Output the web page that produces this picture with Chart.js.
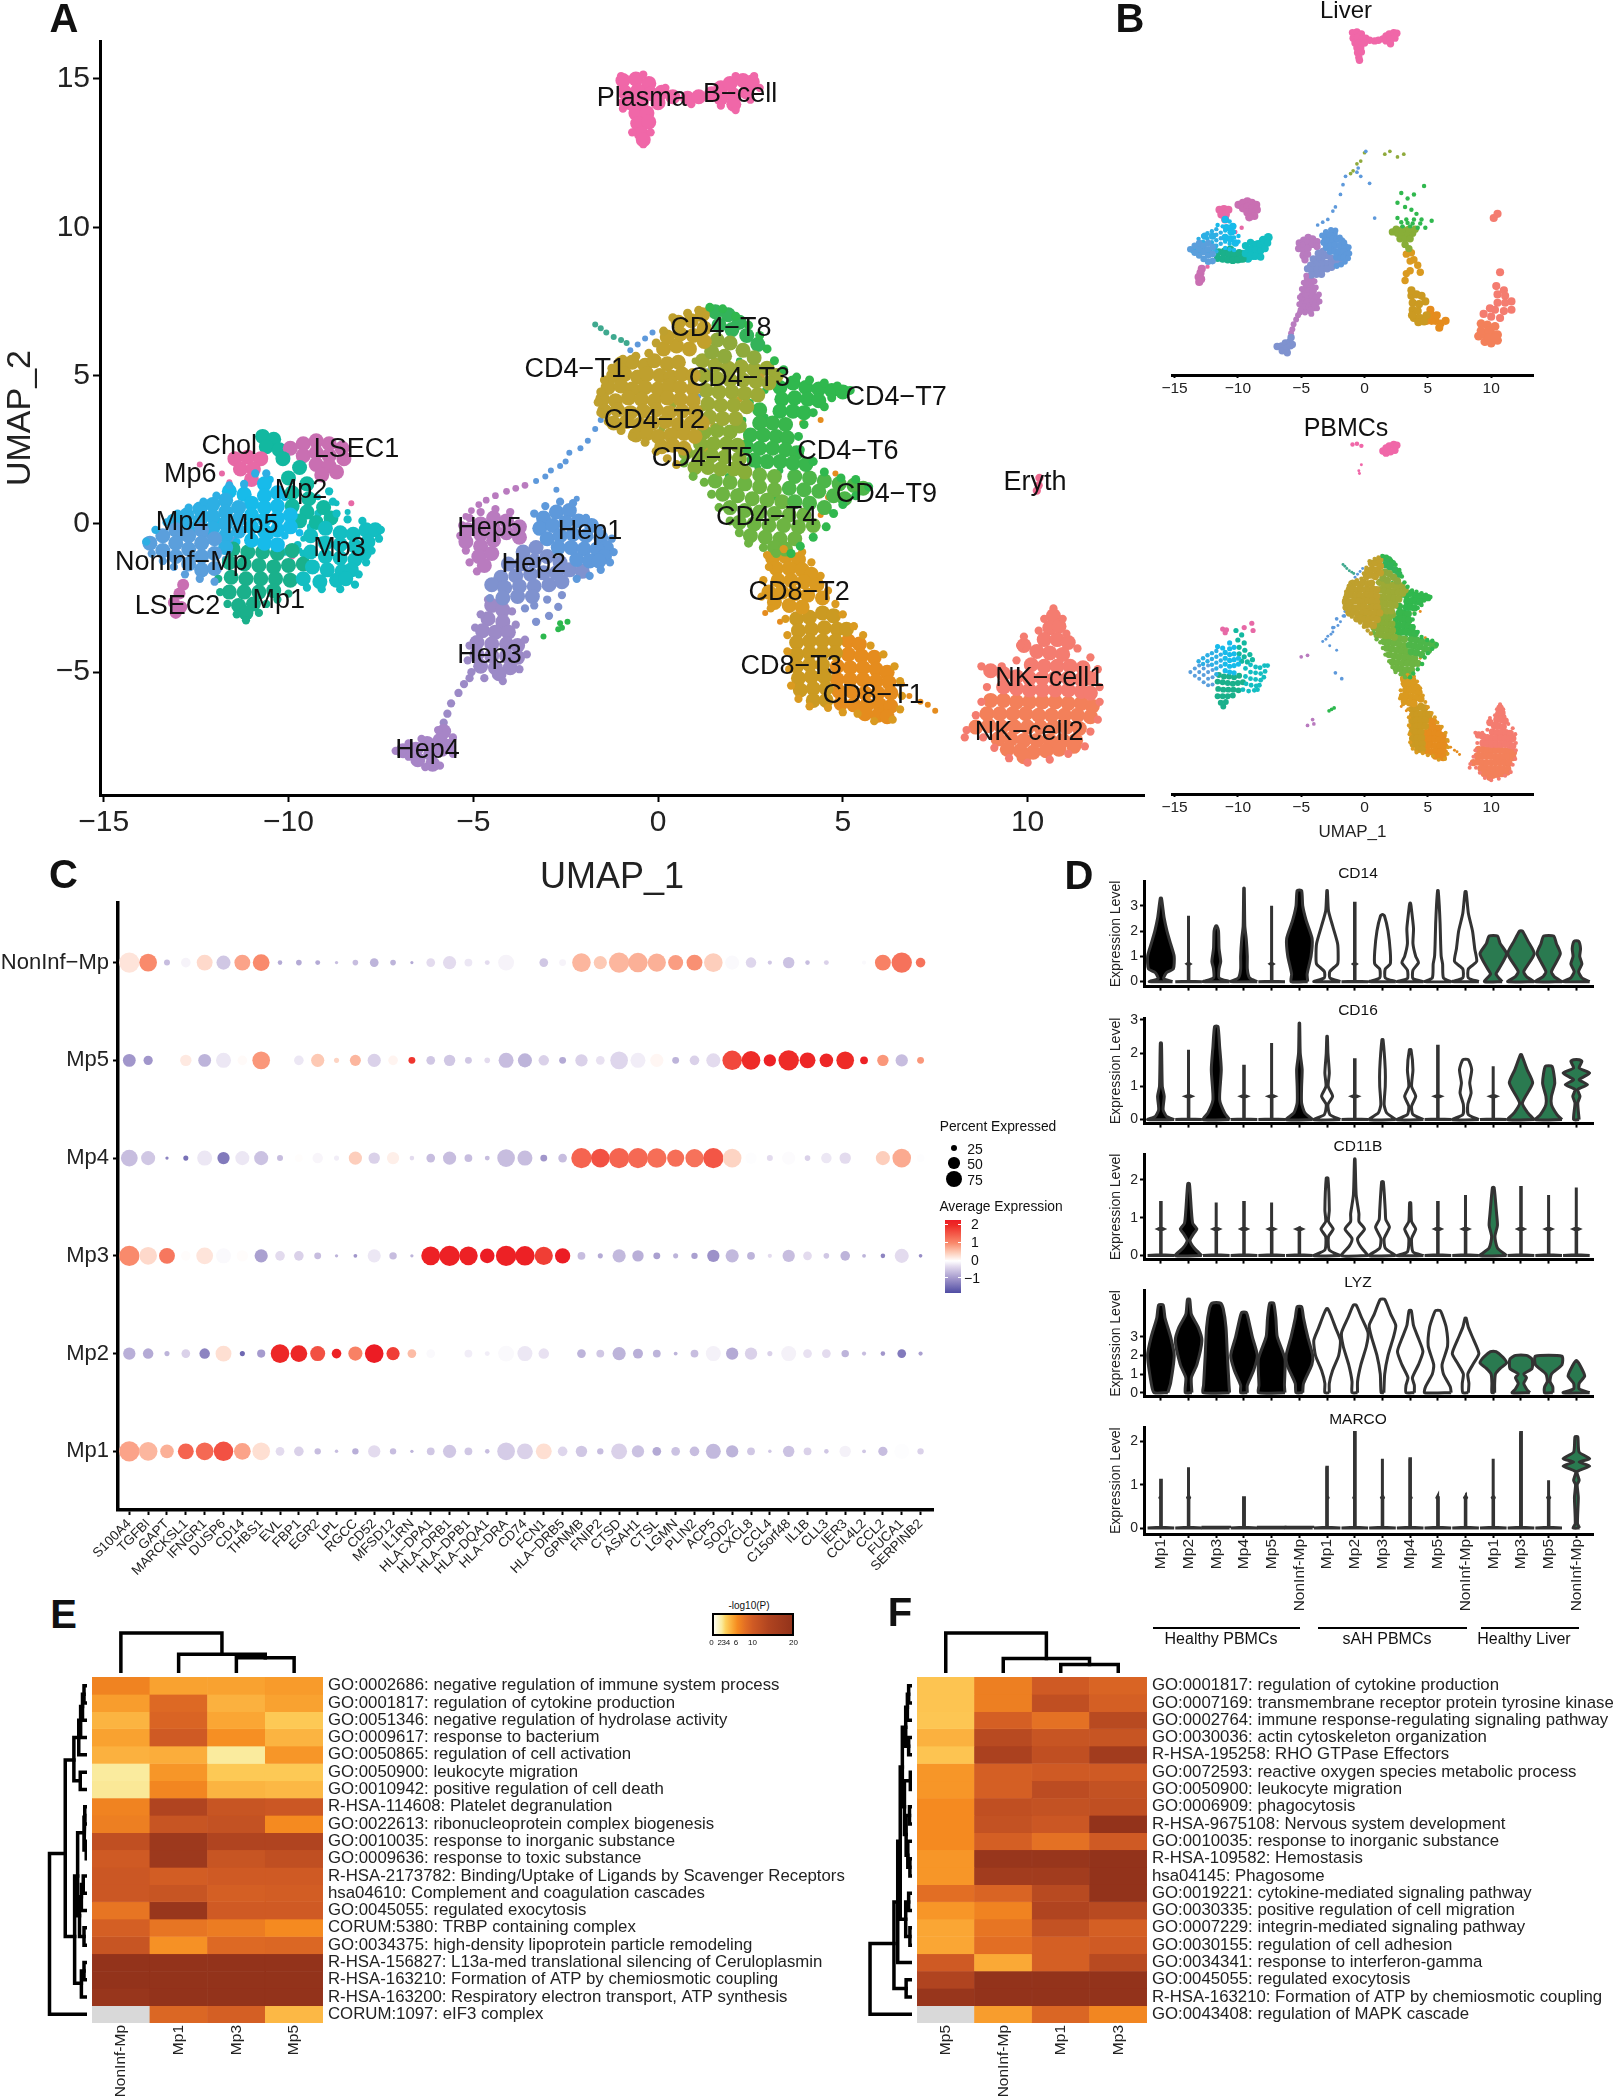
<!DOCTYPE html>
<html>
<head>
<meta charset="utf-8">
<title>Macrophage UMAP figure</title>
<script src="https://cdn.jsdelivr.net/npm/chart.js@4"></script>
<style>
  html, body { margin: 0; padding: 0; background: #fff; }
  #fig { position: relative; width: 1613px; height: 2100px; overflow: hidden; font-family: "Liberation Sans", Arial, sans-serif; color: #111; }
  #fig canvas { position: absolute; }
  .txt { position: absolute; white-space: nowrap; transform: translate(-50%, -50%); }
  .bar { position: absolute; background: #000; }
</style>
</head>
<body>
<div id="fig"></div>
<script>
'use strict';

// ─── Panel A/B: UMAP cells ──────────────────────────────────────────────────
const umapBcell = [[-.95,14.95],[-.6,15],[-.25,14.85],[-.9,14.55],[-.55,14.6],[-.2,14.5],[.1,14.55],[.4,14.4],[.8,14.35],[1.1,14.4],[1.45,14.5],[1.7,14.7],[1.95,14.85],[2.3,14.95],[2.55,14.9],[1.7,14.35],[2.05,14.45],[2.4,14.55],[2.05,14.15],[-.75,14.2],[-.45,14.2],[-.6,13.85],[-.3,13.85],[-.55,13.5],[-.25,13.55],[-.45,13.15],[-.4,12.95],[0,14.2]];
const umapBcellEdge = [[-1,15.1],[-.4,15.15],[2.1,15.1],[2.6,15.1],[2.75,14.7],[2.5,14.3],[2.1,13.95],[1.7,14.1],[-1,14.2],[-.95,14],[-.7,13.2],[-.2,13.2],[-.4,12.8],[.2,14.7],[.9,14.15]];
const umapEryth = [[10.32,1.55],[10.3,1.3],[10.25,1.12]];
const umapNonInf = [[-13.75,-.65],[-13.4,-.4],[-13.4,-.9],[-13.05,-.2],[-13.05,-.65],[-13.05,-1.1],[-12.7,-.4],[-12.7,-.85],[-12.7,-1.35],[-12.35,-.2],[-12.35,-.65],[-12.35,-1.1],[-12.35,-1.55],[-12,-.5],[-12,-1],[-12,-1.5]];
const umapMp4 = [[-13.1,.1],[-12.75,.3],[-12.75,-.1],[-12.4,.5],[-12.4,.1],[-12.05,.65],[-12.05,.25],[-12.05,-.15],[-11.7,.8],[-11.7,.4],[-11.7,0],[-11.7,-.4],[-11.35,.55],[-11.35,.15],[-11.35,-.25],[-11.7,-.8]];
const umapMp5 = [[-11.6,1.1],[-11.2,1],[-11,.7],[-11,.3],[-11,-.1],[-11,-.55],[-10.65,1.35],[-10.65,.95],[-10.65,.55],[-10.65,.15],[-10.65,-.25],[-10.65,-.65],[-10.3,1.05],[-10.3,.6],[-10.3,.2],[-10.3,-.2],[-10.3,-.7],[-9.95,.3],[-9.95,-.1]];
const umapMp2 = [[-10.15,2.2],[-9.7,1.9],[-10,1.55],[-9.5,1.35],[-9.9,1.05],[-9.45,.85],[-9.9,.6],[-9.5,.4],[-9.05,.55],[-9.7,.1],[-9.25,.05],[-8.85,.2]];
const umapMp3 = [[-9.4,-.4],[-9,-.15],[-8.6,-.3],[-8.25,-.35],[-7.9,-.2],[-7.65,-.2],[-9,-.65],[-8.6,-.7],[-8.2,-.75],[-7.85,-.6],[-9.4,-.95],[-9,-1.1],[-8.6,-1.15],[-8.2,-1.2],[-7.95,-1],[-9.35,-1.45],[-8.95,-1.55],[-8.55,-1.6],[-8.3,-1.55],[-9.6,-1.85],[-9.15,-1.95],[-8.7,-1.9],[-8.45,-1.85]];
const umapMp1 = [[-11.5,-.85],[-11.1,-.95],[-10.7,-.95],[-10.3,-1],[-9.9,-.9],[-11.6,-1.3],[-11.2,-1.35],[-10.8,-1.4],[-10.4,-1.45],[-10,-1.4],[-9.6,-1.35],[-11.55,-1.8],[-11.15,-1.85],[-10.75,-1.85],[-10.35,-1.85],[-9.95,-1.9],[-11.6,-2.3],[-11.2,-2.3],[-10.8,-2.3],[-10.4,-2.25],[-11.35,-2.75],[-10.95,-2.7],[-11.15,-3]];
const umapChol = [[-11.45,2.2],[-11.1,2.25],[-10.75,2.2],[-11.3,1.85],[-10.95,1.85],[-11,1.5]];
const umapCholCap = [[-10.7,2.95],[-10.4,2.85],[-10.6,2.6],[-10.25,2.5]];
const umapLsec1 = [[-9.95,2.55],[-9.6,2.7],[-9.25,2.8],[-8.9,2.7],[-8.55,2.55],[-9.6,2.3],[-9.25,2.4],[-8.9,2.3],[-8.5,2.2],[-9.25,2],[-8.9,1.95],[-8.7,1.75],[-9.1,1.65]];
const umapLsec2 = [[-12.85,-2.05],[-12.95,-2.35],[-13.1,-2.65],[-12.9,-2.8],[-13.05,-3]];
const umapEdgeCyan = [[-13.85,-.6],[-13.6,-.2],[-13.3,.05],[-13,.35],[-12.7,.55],[-12.3,.75],[-11.95,.95],[-11.6,1.3],[-11.2,1.35],[-10.9,1.7],[-10.6,1.7]];
const umapEdgeBlue = [[-13.7,-1],[-13.4,-1.25],[-13.1,-1.45],[-12.8,-1.7],[-12.4,-1.85],[-12,-1.95]];
const umapEdgeMp3 = [[-7.5,-.2],[-7.55,-.5],[-7.75,-.9],[-7.9,-1.3],[-8.1,-1.7],[-8.2,-2.05],[-8.6,-2.2],[-9.1,-2.2],[-9.5,-2.15],[-8,.1],[-8.4,.15],[-8.7,.35],[-8.8,.75],[-8.9,1.1]];
const umapEdgeMp1 = [[-10,-2.35],[-10.3,-2.55],[-10.6,-2.7],[-10.8,-3],[-11.15,-3.25],[-11.4,-3.05],[-11.65,-2.7],[-11.85,-2.3],[-11.9,-1.85]];
const umapGrainCyan = [[-11.4,-.6],[-12.3,.35],[-10.1,-.4],[-10.5,-.4],[-9.7,-.3],[-9.85,.5],[-10.1,.9],[-10.5,1.5],[-11.2,1.3],[-12.6,-.2],[-11.9,.1]];
const umapGrainBlue = [[-12.2,-.35],[-11.7,-1.2],[-12.6,-1.1],[-11.5,-.55],[-12.9,-.45]];
const umapGrainMp3 = [[-9.4,-.1],[-9.75,-.7],[-9.6,-1],[-10.1,-.95],[-9.2,.35],[-9.1,-.55]];
const umapHep1 = [[-3.1,.2],[-2.75,.4],[-2.4,.45],[-3.2,-.15],[-2.85,-.05],[-2.5,.05],[-2.15,.1],[-1.8,-.05],[-3,-.5],[-2.65,-.4],[-2.3,-.35],[-1.95,-.4],[-1.55,-.45],[-1.4,-.8],[-2.7,-.8],[-2.35,-.8],[-2,-.85],[-1.65,-.85],[-1.45,-1.1],[-2.2,-1.2],[-1.85,-1.25],[-1.6,-1.25]];
const umapHep2 = [[-3.3,-.8],[-3.65,-.95],[-3,-1.1],[-3.35,-1.25],[-3.7,-1.35],[-4.05,-1.35],[-2.65,-1.3],[-2.4,-1.55],[-2.05,-1.6],[-2.75,-1.65],[-3.1,-1.65],[-3.45,-1.7],[-3.85,-1.75],[-4.25,-1.8],[-4.5,-2.05],[-4.15,-2.15],[-3.75,-2.1],[-3.35,-2.1],[-2.95,-2.05],[-2.6,-1.95],[-3.4,-2.45],[-3.8,-2.45],[-4.2,-2.5]];
const umapHep5 = [[-5.15,-.2],[-5.2,-.6],[-4.8,0],[-4.8,-.35],[-4.8,-.75],[-4.45,.2],[-4.45,-.15],[-4.45,-.55],[-4.1,.1],[-4.1,-.3],[-3.75,-.1],[-3.75,-.45],[-4.85,-1.1],[-4.5,-1],[-4.7,-1.4]];
const umapHep3 = [[-4.5,-2.75],[-4.2,-2.9],[-4.6,-3.2],[-4.2,-3.3],[-4.75,-3.6],[-4.4,-3.65],[-4.05,-3.65],[-4.9,-4],[-4.5,-4.05],[-4.1,-4.05],[-3.8,-4.1],[-4.9,-4.4],[-4.5,-4.45],[-4.1,-4.45],[-3.8,-4.5],[-4.8,-4.8],[-4.4,-4.85],[-4,-4.85],[-4.3,-5.05]];
const umapHep4 = [[-6.9,-7.65],[-6.55,-7.6],[-6.25,-7.4],[-5.9,-7.3],[-6.5,-7.95],[-6.15,-7.75],[-5.85,-7.6],[-6.1,-8.1],[-5.8,-7],[-5.7,-7.5]];
const umapHepStem = [[-5.8,-6.7],[-5.7,-6.4],[-5.6,-6.05],[-5.4,-5.7],[-5.25,-5.4],[-5.1,-5.2]];
const umapEdgeHep1 = [[-1.25,-.5],[-1.2,-.95],[-1.3,-1.3],[-1.55,-1.55],[-1.85,-1.75],[-2.2,-1.85],[-1.6,-.15],[-1.95,.2],[-2.3,.7],[-2.65,.75],[-3.05,.6],[-3.35,.35]];
const umapEdgeHep2 = [[-2.6,-2.4],[-3,-2.55],[-3.35,-2.75],[-2.7,-2.8],[-2.95,-3.1],[-3.3,-3.3],[-3.6,-2.85],[-4.55,-2.5]];
const umapEdgeHep3 = [[-5.1,-4.1],[-5.15,-4.6],[-5.05,-5],[-4.7,-5.2],[-4.2,-5.3],[-3.75,-4.9],[-3.55,-4.4],[-3.6,-3.9],[-3.85,-3.4],[-3.95,-2.95],[-4.8,-3.05],[-4.95,-3.5],[-4.6,-2.55]];
const umapEdgeHep4 = [[-7.1,-7.65],[-6.75,-7.85],[-6.3,-8.2],[-5.9,-8.15],[-5.55,-7.75],[-5.55,-7.2],[-5.95,-6.95],[-6.4,-7.25],[-6.75,-7.4]];
const umapEdgeHep5 = [[-5.35,-.4],[-5.3,-.05],[-5.1,.2],[-4.8,.4],[-4.4,.5],[-4,.4],[-5.2,-.9],[-5.1,-1.3],[-4.9,-1.6]];
const umapTrailBlue = [[-1.55,3.5],[-1.7,3.2],[-1.9,2.8],[-2.1,2.55],[-2.4,2.4],[-2.5,2.1],[-2.65,1.95],[-2.9,1.8],[-3.05,1.6],[-3.3,1.45],[-2.75,1.15],[-2.2,.85],[-.55,6.05],[-.35,6.25],[-.15,6.45],[-.75,5.85],[-.7,5.55]];
const umapTrailPurple = [[-3.6,1.3],[-3.85,1.2],[-4.1,1.1],[-4.4,.95],[-4.65,.8],[-4.85,.65],[-5.05,.45],[-5.2,.25]];
const umapSpike = [[-1.7,6.72],[-1.55,6.6],[-1.4,6.45],[-1.2,6.3],[-1,6.2],[-.85,6.1]];
const umapGreenSpot = [[-2.65,-3.35],[-2.6,-3.5],[-2.7,-3.55],[-2.45,-3.3],[-3.1,-3.8]];
const umapT8Gold = [[.15,5.9],[.5,6],[.85,5.9],[.25,6.3],[.6,6.4],[.95,6.35],[.55,6.8],[.9,6.85],[1.25,6.6],[1.25,6.15],[1.2,7.05]];
const umapT8Green = [[1.55,7.15],[1.9,7.05],[2.2,6.8],[1.65,6.7],[2,6.55],[2.4,6.35],[2.7,6.05]];
const umapT8Olive = [[1.6,6.2],[1.95,6.1],[2.3,5.85],[2.6,5.6],[1.45,5.8],[1.8,5.65]];
const umapT2 = [[-1,5.4],[-.7,5.45],[-.35,5.35],[-.1,5.5],[.25,5.4],[.55,5.45],[-1.2,5],[-.9,5.05],[-.55,4.95],[-.3,5.05],[.05,5],[.35,4.95],[.65,5.05],[.95,5],[-1.35,4.6],[-1,4.65],[-.7,4.55],[-.35,4.6],[0,4.55],[.3,4.65],[.6,4.6],[.95,4.55],[-1.5,4.2],[-1.15,4.15],[-.8,4.25],[-.45,4.2],[-.1,4.15],[.25,4.25],[.6,4.2],[.95,4.15],[-1.45,3.8],[-1.1,3.85],[-.75,3.75],[-.4,3.8],[-.05,3.85],[.3,3.75],[.65,3.8],[1,3.8],[-1.2,3.4],[-.85,3.45],[-.5,3.35],[-.15,3.4],[.2,3.45],[.55,3.35],[.9,3.4],[1.2,3.4],[-.6,3],[-.3,3.05],[0,2.95],[.35,3],[.7,3.05],[1,2.95],[.1,2.6],[.4,2.65],[.7,2.55]];
const umapT3 = [[1.2,5.5],[1.55,5.35],[1.9,5.25],[2.25,5.3],[2.6,5.2],[2.95,5.25],[3.2,5],[1.25,5],[1.6,4.9],[1.95,4.85],[2.3,4.85],[2.65,4.8],[3,4.75],[1.3,4.5],[1.65,4.45],[2,4.45],[2.35,4.4],[2.7,4.35],[1.35,4.05],[1.7,4],[2.05,4],[2.4,3.95],[1.4,3.6],[1.75,3.55],[2.1,3.55]];
const umapT7 = [[3.3,4.6],[3.65,4.75],[4,4.6],[4.35,4.55],[4.7,4.5],[5,4.45],[3.35,4.2],[3.7,4.25],[4.05,4.2],[4.35,4.15],[3.3,3.8],[3.65,3.8],[3.95,3.75]];
const umapT6 = [[2.75,3.85],[3.1,3.4],[2.75,3.4],[3.45,3.35],[2.5,3],[2.85,3],[3.2,2.95],[3.5,2.9],[2.4,2.6],[2.75,2.55],[3.1,2.55],[3.45,2.5],[3.75,2.4],[2.6,2.15],[2.95,2.1],[3.3,2.1],[3.65,2.05],[4,2]];
const umapT5 = [[1.25,3.1],[1.6,3.15],[1.95,3.1],[2.2,3.3],[1.15,2.7],[1.5,2.7],[1.85,2.7],[2.15,2.65],[.75,2.4],[1.1,2.3],[1.45,2.3],[1.8,2.25],[2.2,2.2],[1,1.9],[1.35,1.9],[1.7,1.85],[2.05,1.85],[2.35,1.75]];
const umapT9 = [[3.7,1.6],[4.1,1.55],[4.5,1.45],[4.9,1.35],[5.3,1.3],[5.55,1.2],[3.55,1.2],[3.95,1.15],[4.35,1.1],[4.75,.95],[5.05,.85],[3.7,.75],[4.1,.7],[4.5,.55]];
const umapT4 = [[1.55,1.45],[1.95,1.4],[2.35,1.35],[2.75,1.65],[3.15,1.6],[2.75,1.25],[3.15,1.15],[1.75,1],[2.15,.95],[2.55,.85],[2.95,.8],[3.35,.75],[1.95,.55],[2.35,.45],[2.75,.4],[3.15,.35],[3.55,.3],[3.95,.3],[2.2,.05],[2.6,0],[3,-.05],[3.4,-.05],[3.8,-.1],[4.2,-.05],[2.5,-.4],[2.9,-.45],[3.3,-.5],[3.7,-.5],[3.15,-.8],[3.45,-.85]];
const umapEdgeTGold = [[-1.62,4.1],[-1.55,4.45],[-1.45,4.85],[-1.25,5.25],[-.95,5.55],[-.6,5.65],[-.25,5.75],[-.05,6.1],[.15,6.5],[.4,6.95],[.8,7.1],[1.1,7.2],[-1.55,3.75],[-1.35,3.45],[-1,3.15],[-.7,2.95],[-.35,2.75],[-.05,2.45],[.25,2.2],[.5,2]];
const umapEdgeTGreen = [[1.4,7.3],[1.75,7.25],[2.1,7],[2.45,6.7],[2.75,6.35],[2.95,5.9],[3.15,5.5],[3.4,5.2],[3.75,4.95],[4.1,4.85],[4.5,4.75],[4.85,4.65],[5.2,4.5],[4.7,4.25],[4.5,3.95],[4.2,3.75],[3.95,3.35],[3.8,2.95],[3.85,2.5],[4.2,2.1],[4.5,1.75],[4.95,1.55],[5.35,1.5],[5.7,1.25],[5.35,.95],[5,.65],[4.75,.35],[4.55,-.1],[4.2,-.45],[3.85,-.75],[3.6,-1]];
const umapEdgeTLeaf = [[3.2,-1],[2.85,-.8],[2.45,-.65],[2.2,-.3],[1.95,.1],[1.65,.55],[1.45,1],[1.25,1.4],[.95,1.6],[.7,2.05]];
const umapGrainOlive = [[.4,4],[.8,3.3],[.1,3.2],[-.5,4.4],[.9,4.8],[1,5.5],[.5,3],[1.2,3.9]];
const umapGrainGold = [[1.6,4.6],[2.2,4.2],[1.5,3.3],[2,5.1],[2.8,5],[2.4,2.9],[1.8,2.4],[1.3,2.5]];
const umapGrainGreen = [[2.2,5.5],[2.9,4.5],[2.5,4.1],[2.9,3.6],[2.3,3.5],[1.9,3],[2.4,2.4],[1.9,1.6],[2.7,1.9],[2.2,1.1],[3.2,.9],[3.7,1.5],[3.3,1.8]];
const umapC8T2 = [[3.1,-1.15],[3.45,-1.1],[3.8,-1.2],[3.2,-1.5],[3.55,-1.5],[3.9,-1.55],[4.15,-1.7],[3.25,-1.9],[3.6,-1.9],[3.95,-1.95],[4.3,-2.05],[3,-2.3],[3.35,-2.3],[3.7,-2.35],[4.05,-2.4],[4.45,-2.5],[3.15,-2.65],[3.55,-2.75],[3.9,-2.8]];
const umapC8T3 = [[3.75,-3.2],[4.1,-3.15],[4.45,-3],[4.75,-3.1],[3.8,-3.6],[4.15,-3.55],[4.5,-3.5],[4.85,-3.55],[5.1,-3.55],[3.75,-4],[4.1,-3.95],[4.45,-3.95],[4.8,-3.95],[3.75,-4.4],[4.1,-4.35],[4.45,-4.35],[4.8,-4.35],[3.75,-4.8],[4.1,-4.75],[4.45,-4.75],[3.8,-5.2],[4.15,-5.15],[4.5,-5.15],[3.85,-5.6],[4.2,-5.55],[4.55,-5.55],[4.2,-5.95],[4.55,-5.95]];
const umapC8T1 = [[5.15,-3.95],[5.45,-4.05],[5.15,-4.4],[5.5,-4.45],[5.85,-4.5],[4.85,-4.8],[5.2,-4.85],[5.55,-4.85],[5.9,-4.9],[6.2,-5],[4.85,-5.25],[5.2,-5.25],[5.55,-5.25],[5.9,-5.3],[6.25,-5.35],[4.9,-5.65],[5.25,-5.65],[5.6,-5.7],[5.95,-5.7],[6.3,-5.7],[4.95,-6.05],[5.3,-6.1],[5.65,-6.1],[6,-6.1],[6.3,-6.15],[5.6,-6.4],[5.95,-6.45],[6.2,-6.5]];
const umapC8Strays = [[6.6,-5.4],[6.8,-5.8],[7.1,-6],[7.3,-6.1],[7.5,-6.3],[3.9,3.4],[4,1.2],[4.4,.3],[4.8,1.7],[4.6,.9],[4.4,3.5],[2.9,-3],[3.3,-3.3]];
const umapEdgeC8 = [[2.95,-1.05],[3.4,-.85],[3.9,-.95],[4.15,-1.3],[4.4,-1.75],[4.6,-2.25],[4.8,-2.7],[5,-3.05],[5.3,-3.45],[5.55,-3.75],[5.75,-4.1],[6.1,-4.4],[6.4,-4.8],[6.55,-5.3],[6.6,-5.8],[6.55,-6.25],[6.35,-6.6],[5.85,-6.65],[5.4,-6.4],[5,-6.35],[4.6,-6.2],[4.1,-6.15],[3.8,-5.9],[3.6,-5.45],[3.55,-4.9],[3.5,-4.3],[3.5,-3.75],[3.45,-3.2],[3.05,-2.85],[2.8,-2.45],[2.85,-1.9],[3,-1.45]];
const umapNk1 = [[10.7,-3.1],[10.6,-3.5],[10.85,-3.45],[10.45,-3.9],[10.8,-3.9],[11.1,-4],[9.9,-4.1],[10.25,-4.3],[10.6,-4.35],[10.95,-4.4],[10.1,-4.75],[10.45,-4.8],[10.8,-4.8],[11.15,-4.8],[11.5,-4.85],[9,-4.95],[9.35,-5.05],[9.7,-5.15],[10.05,-5.2],[10.4,-5.2],[10.75,-5.2],[11.1,-5.2],[11.45,-5.25],[11.7,-5.2],[9.35,-5.5],[9.7,-5.55],[10.05,-5.6],[10.4,-5.6],[10.75,-5.6],[11.1,-5.6],[11.45,-5.65],[11.7,-5.7]];
const umapNk2 = [[9,-5.95],[9.35,-5.95],[9.7,-6],[10.05,-6],[10.4,-6],[10.75,-6],[11.1,-6.05],[11.45,-6.05],[11.75,-6.15],[8.9,-6.4],[9.25,-6.4],[9.6,-6.4],[9.95,-6.4],[10.3,-6.45],[10.65,-6.45],[11,-6.45],[11.35,-6.45],[11.7,-6.5],[8.6,-6.85],[8.95,-6.8],[9.3,-6.85],[9.65,-6.85],[10,-6.85],[10.35,-6.85],[10.7,-6.85],[11.05,-6.85],[11.4,-6.9],[9.2,-7.25],[9.55,-7.25],[9.9,-7.3],[10.25,-7.3],[10.6,-7.3],[10.95,-7.3],[11.3,-7.3],[9.45,-7.6],[9.8,-7.65],[10.15,-7.7],[10.5,-7.65],[10.85,-7.6],[11.25,-7.5],[9.9,-7.85]];
const umapEdgeNk = [[10.7,-2.85],[10.95,-3.2],[11.05,-3.7],[11.35,-4.2],[11.7,-4.5],[11.9,-4.9],[11.95,-5.5],[11.95,-6],[11.9,-6.6],[11.7,-7],[11.55,-7.5],[11.1,-7.75],[10.6,-7.95],[10,-8.05],[9.5,-7.9],[9.1,-7.55],[8.8,-7.2],[8.35,-6.95],[8.3,-7.2],[8.6,-6.45],[8.75,-6],[8.9,-5.5],[8.75,-4.8],[9.3,-4.8],[9.7,-4.6],[9.8,-4.1],[9.9,-3.8],[10.3,-3.6],[10.45,-3.2]];
const umapSpeckBlue = [[-.2,4.6],[.4,3.7],[1.1,4.3],[.6,5.3],[1.9,4.8],[.3,5.1],[1.1,2.1],[2.4,3.1],[1.4,5.2],[-.9,3.6]];
const umapSpeckPink = [[-11,-.9],[-10,-.8],[-9.5,.55],[-12.4,2],[-11.8,1.7],[-11.6,1.4],[-8.3,.7],[-10.8,-.6],[-9.9,-1.1]];
const umapSpeckTeal = [[-9.2,.9],[-8.7,.7],[-8.4,.4],[-11.3,.9],[-9.6,-.5],[-9.7,-.9]];

const pbmcPink = [[-11.2,2.3],[-10.9,2.25],[-11,2.05],[-9.5,2.4],[-8.9,2.7],[-8.8,2.2]];
const pbmcPurple = [[-5,.4],[-4.5,.5],[-4.1,-3.9],[-4.5,-4.3],[-4,-4.2]];
const pbmcBlue = [[-2.3,-.7],[-1.8,-1.1],[-2.5,2.4],[-2.2,3],[-1.6,3.2]];
const pbmcGreen = [[-2.6,-3.2],[-2.4,-3.1],[-2.8,-3.3]];

const liverMp3 = [[-9.6,-1],[-9.2,-.9],[-8.8,-.6],[-8.4,-.3],[-8,0],[-7.6,.2],[-9.2,-1.3],[-8.8,-1.1],[-8.4,-.9]];
const liverMp1 = [[-11,-.8],[-10.6,-1.1],[-10.2,-1.3],[-9.8,-1.3],[-10.6,-.7]];
const liverMp5 = [[-11,.2],[-10.6,.1],[-10.2,-.2],[-10.9,.9],[-10.4,1],[-11,1.5],[-10.5,.6]];
const liverMp4 = [[-13.5,-.7],[-13.1,-.4],[-12.7,-.7],[-12.3,-.8],[-12.6,.3],[-12,.3],[-13.1,-.9],[-11.9,-.5]];
const liverPink = [[-12,-1.5],[-12.4,-1.9],[-10.2,.6],[-9.7,.9]];
const liverTGreen = [[2.9,3.4],[3.4,3],[3.9,3.3],[2.6,2.7],[3.2,2.4],[3.7,2.2],[4.7,3.9],[4.1,1.9],[2.6,1.6],[3.3,1.5],[3.9,1.5],[4.5,1.5],[5.3,1.4],[3,1],[3.6,1],[4.2,.9],[4.8,.9],[3.4,1.25],[2.9,1.3],[3.8,1.2],[4.4,1.2]];
const liverTOlive = [[1.6,6.2],[2,6.4],[2.6,6],[3.1,6.2],[0,6.3],[-.3,5.7],[-.6,5.5],[-.9,5],[-1.1,4.8]];
const liverTBlue = [[.1,6.4],[-.5,5.2],[-.3,4.6],[-1.5,4.6],[-1.7,4],[-1.9,3.3],[-2.3,2.4],[-2.5,2.1],[-2.9,1.5],[-3.3,1.3],[-3.7,1.1],[.4,4.1],[.8,1.6],[-.6,4.9]];
const liverT4 = [[2.2,.6],[2.6,.5],[3,.5],[3.4,.5],[3.8,.5],[2.8,.1],[3.2,.1],[3.6,.1],[3.2,-.3],[3.5,-.6],[2.5,.8],[3,.8],[3.5,.8],[4,.8]];
const liverC8T2 = [[3.3,-1],[3.7,-.9],[3.9,-1.4],[4.2,-1.8],[3.6,-1.5],[4.4,-2.3],[3.3,-2.4],[3.6,-2.2],[3.2,-2.9]];
const liverC8T3 = [[3.7,-4],[4.1,-3.9],[4.5,-4],[3.8,-4.5],[4.3,-4.6],[3.8,-5],[4.2,-5.1],[4.8,-4.4],[3.9,-5.6],[4.4,-5.6],[4.9,-5.4],[4.25,-5.9],[4.7,-5.85],[3.7,-3.6],[3.75,-5.4]];
const liverC8T1 = [[5.2,-5],[5.6,-5.8],[6,-6],[6.4,-5.8],[5.3,-5.8],[4.9,-5.8],[5.9,-6.3],[5.25,-5.4],[5.7,-5.4]];
const liverNk1 = [[10.4,-3.3],[11,-3.6],[10.5,-3.9],[11.1,-4],[11.6,-4.4],[11.1,-4.5],[10.5,-4.5],[11.6,-5],[11,-5.1],[10.3,-5],[9.9,-4.9],[9.4,-5.3],[10,-5.5],[10.7,-5.6],[10.2,1.6],[10.5,1.9],[10.7,-2.3]];
const liverNk2 = [[9.2,-6],[9.7,-6.1],[10.3,-6.2],[9,-6.9],[9.5,-6.8],[10,-6.7],[10.5,-6.8],[9.5,-7.3],[10,-7.4],[10.5,-7.2],[9.2,-6.5],[9.8,-6.5],[9.8,-7],[10.3,-7]];

const clusterNames = ['Plasma','B\u2212cell','CD4\u2212T8','CD4\u2212T1','CD4\u2212T3','CD4\u2212T7','CD4\u2212T2','CD4\u2212T6','CD4\u2212T5','CD4\u2212T9','Eryth','CD4\u2212T4','CD8\u2212T2','CD8\u2212T3','CD8\u2212T1','NK\u2212cell1','NK\u2212cell2','Hep5','Hep1','Hep2','Hep3','Hep4','Chol','LSEC1','Mp6','Mp2','Mp4','Mp5','Mp3','NonInf\u2212Mp','LSEC2','Mp1'];
const clusterX = [-.44,2.22,1.7,-2.24,2.2,6.44,-.1,5.14,1.2,6.18,10.2,2.94,3.82,3.6,5.82,10.6,10.04,-4.56,-1.84,-3.36,-4.56,-6.24,-11.6,-8.16,-12.66,-9.66,-12.88,-10.98,-8.62,-12.9,-13,-10.26];
const clusterY = [14.34,14.46,6.6,5.2,4.9,4.25,3.5,2.45,2.2,1,1.4,.2,-2.3,-4.8,-5.8,-5.2,-7.05,-.15,-.25,-1.38,-4.43,-7.64,2.6,2.5,1.66,1.12,.04,-.07,-.84,-1.29,-2.77,-2.59];
const umapTicksX = [-15,-10,-5,0,5,10];
const umapTicksY = [-5,0,5,10,15];

// ─── Panel C: dot plot ──────────────────────────────────────────────────────
const dotGenes = ['S100A4','TGFBI','GAPT','MARCKSL1','IFNGR1','DUSP6','CD14','THBS1','EVL','FBP1','EGR2','LPL','RGCC','CD52','MFSD12','IL1RN','HLA\u2212DPA1','HLA\u2212DRB1','HLA\u2212DPB1','HLA\u2212DQA1','HLA\u2212DRA','CD74','FCN1','HLA\u2212DRB5','GPNMB','FNIP2','CTSD','ASAH1','CTSL','LGMN','PLIN2','ACP5','SOD2','CXCL8','CCL4','C15orf48','IL1B','CLL3','IER3','CCL4L2','CCL2','FUCA1','SERPINB2'];
const dotRows = ['Mp1','Mp2','Mp3','Mp4','Mp5','NonInf\u2212Mp'];
const pctNonInf = [100,85,20,40,75,65,75,80,12,18,14,5,18,35,18,4,35,60,30,14,75,0,35,25,90,60,100,95,88,70,75,90,65,45,10,50,12,14,0,10,75,100,40];
const avgNonInf = [.25,1,-.6,-.1,.35,-.5,.8,1,-.8,-.8,-.8,-.6,-.6,-.7,-.7,-.8,-.3,-.3,-.2,-.3,-.1,0,-.5,-.1,.65,.5,.65,.7,.7,.85,.95,.45,-.05,-.35,-.5,-.55,-.6,-.4,0,-.05,1.1,1.25,1.25];
const pctMp5 = [58,38,0,50,58,70,40,85,40,40,60,15,48,60,40,25,35,50,25,18,70,65,45,25,55,35,85,70,60,25,40,65,95,90,55,100,75,62,85,30,50,55,25];
const avgMp5 = [-1,-1,0,.2,-.7,-.2,.05,.9,0,-.2,.5,.4,.65,-.4,.1,1.9,-.5,-.5,-.5,-.3,-.6,-.7,-.4,-.8,-.4,-.25,-.35,-.15,.08,-.7,-.4,-.3,1.7,2,2.2,2,2.1,2.1,2,2.2,.9,-.6,.9];
const pctMp4 = [80,65,5,15,70,55,65,65,20,30,45,15,60,50,55,12,35,60,30,14,85,70,25,35,100,90,100,98,95,82,88,100,90,50,20,60,18,45,50,0,65,90,30];
const avgMp4 = [-.6,-.5,-1.2,-1.4,-.2,-1.3,-.2,-.55,-.6,.02,-.08,-.15,.45,-.4,.15,-.3,-.6,-.6,-.6,-.6,-.6,-.6,-1,-.6,1.4,1.6,1.4,1.35,1.3,1.3,1.25,1.55,.4,-.02,-.3,-.03,-.4,-.2,-.3,0,.45,.75,-.02];
const pctMp3 = [100,85,75,40,80,70,50,60,40,40,25,5,8,60,28,5,92,100,90,68,100,95,88,72,30,15,60,50,25,15,22,55,60,30,10,55,35,18,40,8,12,65,7];
const avgMp3 = [1,.35,1.2,.03,.25,-.05,.03,-.9,-.3,-.4,-.6,-.7,-1,-.2,-.6,-.7,2.2,2.2,2.2,2.3,2.2,2.2,1.8,2.3,-.6,-.8,-.65,-.75,-.9,-.7,-.9,-1.05,-.65,-.7,-.3,-.6,-.3,-.5,-.7,-.7,-1.2,-.3,-1.1];
const pctMp2 = [55,45,15,35,45,75,15,32,90,80,70,40,65,90,60,35,35,55,30,14,75,70,45,0,35,30,60,42,30,8,30,70,55,55,15,70,35,35,28,10,12,35,10];
const avgMp2 = [-.75,-.8,-.7,-.4,-1.2,.3,-1.5,-.95,2.1,2.1,1.6,2.2,1.1,2.3,1.8,.6,-.05,0,-.15,-.15,-.05,-.2,-.25,0,-.7,-.5,-.7,-.75,-.7,-.7,-.6,-.12,-.8,-.4,-.4,-.12,-.25,-.3,-.7,-.6,-1,-1.3,-.9];
const pctMp1 = [100,90,62,75,85,95,80,85,35,40,22,6,22,55,22,5,30,60,30,12,85,75,75,40,50,22,75,55,35,35,40,70,55,30,6,50,30,12,50,8,38,70,22];
const avgMp1 = [.8,.65,.7,1.4,1.35,1.6,.8,.3,-.3,-.4,-.6,-.6,-.75,-.3,-.6,-.7,-.5,-.5,-.5,-.6,-.45,-.4,.3,-.35,-.5,-.6,-.4,-.55,-.8,-.55,-.6,-.65,-.7,-.5,-.5,-.55,-.4,-.5,-.12,-.5,-.6,-.02,-.4];
const exprStops = [[-1.8,'#4f4ca3'],[-1,'#a196cb'],[-.3,'#e3dbee'],[0,'#ffffff'],[.5,'#fdc9b4'],[1,'#f98a6c'],[2,'#ee2b27'],[2.3,'#ec1c24']];
const legendPct = [25,50,75];
const legendExprTicks = [2,1,0,-1];

// ─── Panel D: violin outlines, [level, half width]; a bare number is a spike ─
const violinGroups = ['Mp1','Mp2','Mp3','Mp4','Mp5','NonInf-Mp','Mp1','Mp2','Mp3','Mp4','Mp5','NonInf-Mp','Mp1','Mp3','Mp5','NonInf-Mp'];
const cd14Violins = [
  [[0,.42],[.12,.1],[.35,.2],[.5,.45],[1,.48],[1.5,.35],[2,.22],[2.5,.12],[3,.06],[3.3,.02]], 2.6,
  [[0,.48],[.15,.1],[.5,.1],[.8,.16],[1.3,.1],[2,.08],[2.2,.02]],
  [[0,.48],[.15,.2],[.5,.12],[1,.12],[1.7,.08],[2.2,.03],[3.7,.01]], 3,
  [[0,.3],[.3,.28],[1,.42],[1.7,.46],[2.4,.25],[3,.12],[3.6,.08]],
  [[0,.48],[.15,.1],[.4,.1],[.7,.38],[1,.4],[1.5,.38],[2.2,.2],[2.8,.05],[3.6,.01]], 3.1,
  [[0,.48],[.15,.1],[.5,.1],[.7,.28],[1.2,.28],[2,.2],[2.6,.07],[2.65,.01]],
  [[0,.48],[.12,.1],[.45,.1],[.75,.3],[1,.2],[1.5,.1],[2.1,.12],[3,.03],[3.1,.01]],
  [[0,.48],[.15,.2],[.7,.17],[1,.12],[1.5,.1],[2.3,.08],[3,.05],[3.6,.01]],
  [[0,.48],[.15,.1],[.5,.1],[.8,.4],[1.3,.33],[2,.25],[2.7,.1],[3.55,.02]],
  [[0,.32],[.3,.1],[.5,.2],[1.1,.48],[1.5,.25],[1.8,.15]],
  [[0,.48],[.2,.2],[.4,.1],[1.1,.48],[1.6,.25],[2,.05]],
  [[0,.48],[.2,.2],[.4,.1],[1.1,.42],[1.5,.28],[1.8,.18]],
  [[0,.48],[.15,.2],[.4,.08],[.7,.2],[1,.12],[1.3,.15],[1.6,.08]]
];
const cd16Violins = [
  [[0,.48],[.1,.2],[.3,.08],[.7,.12],[1,.05],[2.3,.02]], 2.1,
  [[0,.48],[.2,.3],[.6,.12],[1.5,.18],[2.2,.12],[2.8,.06]], 1.6, 2.3,
  [[0,.48],[.2,.2],[.5,.08],[1,.08],[1.5,.1],[2,.03],[2.9,.01]],
  [[0,.48],[.15,.1],[.45,.03],[.7,.2],[1,.04],[1.4,.08],[2,.03],[2.5,.01]], 1.8,
  [[0,.48],[.2,.15],[.45,.06],[1,.1],[1.5,.1],[2.4,.02]],
  [[0,.48],[.15,.1],[.4,.05],[.7,.2],[1,.05],[1.5,.1],[2.1,.03]], 2.2,
  [[0,.48],[.15,.1],[.45,.08],[.8,.2],[1.1,.15],[1.5,.22],[1.8,.1]], 1.6,
  [[0,.48],[.2,.25],[.5,.05],[1.1,.42],[1.5,.22],[1.95,.02]],
  [[0,.48],[.15,.3],[.45,.1],[.7,.1],[1.1,.22],[1.6,.12]],
  [[0,.1],[.5,.05],[.7,.13],[.9,.05],[1.05,.4],[1.2,.1],[1.4,.48],[1.55,.1],[1.75,.2],[1.8,.1]]
];
const cd11bViolins = [
  1.4, [[0,.48],[.2,.2],[.4,.05],[.6,.2],[.7,.3],[.85,.15],[1.2,.1],[1.9,.03]], 1.4, 1.4, 1.4, .7,
  [[0,.48],[.15,.08],[.5,.05],[.7,.22],[.9,.05],[1.2,.08],[2.05,.03]],
  [[0,.48],[.25,.2],[.45,.1],[.7,.35],[.9,.15],[1.1,.15],[1.6,.05],[2.55,.01]],
  [[0,.48],[.2,.1],[.45,.06],[.75,.25],[.95,.12],[1.2,.1],[1.95,.03]],
  [[0,.48],[.1,.1],[.45,.05],[.7,.2],[.9,.05],[1.4,.02]], 1.4, 1.6,
  [[0,.48],[.2,.15],[.5,.06],[.8,.15],[1.1,.12],[1.8,.03]], 1.8, 1.6, 1.8
];
const lyzViolins = [
  [[0,.25],[.5,.35],[2,.48],[3,.35],[4,.15],[4.7,.08]],
  [[0,.12],[.8,.1],[1.5,.3],[2.8,.48],[3.5,.35],[4.2,.1],[5,.04]],
  [[0,.48],[.4,.46],[2,.4],[3.5,.35],[4.5,.25],[4.8,.15]],
  [[0,.12],[.4,.12],[1.2,.35],[2,.48],[3,.3],[4,.15],[4.3,.08]],
  [[0,.48],[.4,.46],[1.8,.48],[3,.2],[4,.15],[4.8,.07]],
  [[0,.12],[.5,.15],[1.5,.45],[2,.48],[3,.3],[4,.15],[4.6,.08]],
  [[0,.08],[.5,.08],[1.2,.2],[2,.42],[2.8,.48],[3.5,.3],[4.2,.12],[4.5,.02]],
  [[0,.1],[.6,.1],[1.5,.22],[2.5,.42],[3.2,.48],[4,.25],[4.7,.05]],
  [[0,.05],[1,.08],[2,.2],[3,.4],[3.6,.48],[4.2,.3],[5,.08]],
  [[0,.15],[.4,.15],[.8,.08],[1.5,.3],[2.2,.46],[2.9,.3],[3.6,.12],[4.4,.04]],
  [[0,.48],[.3,.45],[1,.2],[1.5,.15],[2.5,.35],[3.5,.3],[4.2,.15],[4.4,.08]],
  [[0,.1],[.5,.12],[1,.08],[1.6,.3],[2.1,.48],[2.8,.3],[3.5,.1],[4,.02]],
  [[0,.05],[.5,.05],[1,.08],[1.3,.25],[1.6,.48],[1.9,.35],[2.2,.1]],
  [[0,.32],[.2,.2],[.5,.1],[.8,.2],[1,.1],[1.3,.4],[1.8,.4],[2,.2]],
  [[0,.15],[.3,.15],[.6,.05],[1,.1],[1.5,.48],[1.95,.48]],
  [[0,.48],[.2,.1],[.5,.1],[.9,.3],[1.5,.12],[1.7,.02]]
];
const marcoViolins = [
  1.1, 1.4, 0, .7, 0, 0, 1.4, 2.2, 1.6, 1.6, .7, .7, 1.6, 2.2, 1.1,
  [[0,.12],[.1,.04],[.7,.07],[1,.03],[1.1,.1],[1.3,.03],[1.43,.48],[1.52,.1],[1.6,.48],[1.75,.1],[2.1,.05]]
];

// ─── Panels E/F: heatmaps ───────────────────────────────────────────────────
const heatStops = [[0,'#fffef0'],[2,'#faeb9e'],[3,'#fdd05c'],[4,'#fcb845'],[5,'#f9a230'],[6,'#f58a20'],[8,'#e26e24'],[10,'#cf5a24'],[14,'#b04420'],[20,'#93331b']];
const heatLegendTicks = [0,2,3,4,6,10,20];
const termsE = ['GO:0002686: negative regulation of immune system process','GO:0001817: regulation of cytokine production','GO:0051346: negative regulation of hydrolase activity','GO:0009617: response to bacterium','GO:0050865: regulation of cell activation','GO:0050900: leukocyte migration','GO:0010942: positive regulation of cell death','R-HSA-114608: Platelet degranulation','GO:0022613: ribonucleoprotein complex biogenesis','GO:0010035: response to inorganic substance','GO:0009636: response to toxic substance','R-HSA-2173782: Binding/Uptake of Ligands by Scavenger Receptors','hsa04610: Complement and coagulation cascades','GO:0045055: regulated exocytosis','CORUM:5380: TRBP containing complex','GO:0034375: high-density lipoprotein particle remodeling','R-HSA-156827: L13a-med translational silencing of Ceruloplasmin','R-HSA-163210: Formation of ATP by chemiosmotic coupling','R-HSA-163200: Respiratory electron transport, ATP synthesis','CORUM:1097: eIF3 complex'];
const colsE = ['NonInf-Mp','Mp1','Mp3','Mp5'];
const valuesE = [[6.5,5,5,5.3],[5.2,8.5,4.3,5],[4.2,9,4.8,3.3],[5,10,5.8,4.2],[4.3,4.5,2,5.5],[2,5.5,3.3,3.3],[2.1,6.3,4.2,4],[6.5,14,11,10.5],[6.8,11,11.5,6],[12,18,14,14],[10,18,11,12],[10.5,9.7,10,10],[10.5,11,9.5,9.7],[7.5,19,10,10],[9.5,7.5,7,6],[11,5.7,8.5,8.7],[20,20,20,20],[20,20,20,20],[19,20,20,20],[null,8.7,9.5,4]];
const termsF = ['GO:0001817: regulation of cytokine production','GO:0007169: transmembrane receptor protein tyrosine kinase','GO:0002764: immune response-regulating signaling pathway','GO:0030036: actin cytoskeleton organization','R-HSA-195258: RHO GTPase Effectors','GO:0072593: reactive oxygen species metabolic process','GO:0050900: leukocyte migration','GO:0006909: phagocytosis','R-HSA-9675108: Nervous system development','GO:0010035: response to inorganic substance','R-HSA-109582: Hemostasis','hsa04145: Phagosome','GO:0019221: cytokine-mediated signaling pathway','GO:0030335: positive regulation of cell migration','GO:0007229: integrin-mediated signaling pathway','GO:0030155: regulation of cell adhesion','GO:0034341: response to interferon-gamma','GO:0045055: regulated exocytosis','R-HSA-163210: Formation of ATP by chemiosmotic coupling','GO:0043408: regulation of MAPK cascade'];
const colsF = ['Mp5','NonInf-Mp','Mp1','Mp3'];
const valuesF = [[3.5,6.8,10,9],[3.5,6.8,12,9.5],[3.4,9.5,7.8,13],[4.3,13,11,11],[3.5,15,12,17],[5.5,9.5,10,10],[5.5,9.5,12.5,11.5],[6,12,11.5,12],[6,11.5,10.5,20],[6,9.5,7.8,10],[5.5,19,19,20],[5.5,17,17,20],[8,9,13,20],[5.5,6.5,14,13],[4.8,7.5,11.5,9.5],[4.8,8,9.5,10],[10,4.7,9.5,13],[14,20,20,20],[19,20,20,20],[null,5.2,8.8,6.3]];

// merges: [row a, height a, row b, height b, merge height]
const rowTreeE = [[0,0,1,0,.08],[.5,.08,2,0,.12],[1.2,.12,3,0,.17],[2,.17,4,0,.22],[5,0,6,0,.18],[3,.22,5.5,.18,.35],[7,0,8,0,.06],[9,0,10,0,.02],[7.5,.06,9.5,.02,.08],[11,0,12,0,.1],[11.5,.1,13,0,.15],[14,0,15,0,.08],[12.2,.15,14.5,.08,.2],[8.5,.08,13.3,.2,.25],[16,0,17,0,.08],[16.5,.08,18,0,.15],[11,.25,17.2,.15,.33],[4.3,.35,14.5,.33,.58],[9.7,.58,19,0,1]];
const colTreeE = [[2,0,3,0,.38],[1,0,2.5,.38,.47],[0,0,1.75,.47,1]];
const rowTreeF = [[0,0,1,0,.08],[.5,.08,2,0,.11],[3,0,4,0,.08],[1.25,.11,3.5,.08,.15],[5,0,6,0,.04],[7,0,8,0,.06],[10,0,11,0,.05],[9,0,10.5,.05,.1],[7.5,.06,9.8,.1,.14],[5.5,.04,8.6,.14,.18],[2.4,.15,7,.18,.23],[12,0,13,0,.08],[14,0,15,0,.05],[12.5,.08,14.5,.05,.15],[4.7,.23,13.5,.15,.28],[9,.28,16,0,.34],[17,0,18,0,.14],[12.5,.34,17.5,.14,.43],[14.9,.43,19,0,1]];
const colTreeF = [[2,0,3,0,.21],[1,0,2.5,.21,.36],[0,0,1.75,.36,1]];

// ─── Helpers ────────────────────────────────────────────────────────────────
Chart.defaults.font.family = '"Liberation Sans", Arial, sans-serif';
Chart.defaults.color = '#111';
Chart.defaults.animation = false;
Chart.defaults.responsive = false;
Chart.defaults.plugins.legend.display = false;
Chart.defaults.plugins.tooltip.enabled = false;

const fig = document.getElementById('fig');

function place(left, top, width, height) {
  const c = document.createElement('canvas');
  c.width = width;
  c.height = height;
  c.style.left = left + 'px';
  c.style.top = top + 'px';
  fig.appendChild(c);
  return c;
}

function text(str, x, y, size, extra) {
  const el = document.createElement('div');
  el.className = 'txt';
  el.textContent = str;
  el.style.left = x + 'px';
  el.style.top = y + 'px';
  el.style.fontSize = size + 'px';
  if (extra) el.style.cssText += extra;
  fig.appendChild(el);
}

function rect(x, y, w, h, color) {
  const el = document.createElement('div');
  el.className = 'bar';
  el.style.cssText = `left:${x}px;top:${y}px;width:${w}px;height:${h}px;background:${color || '#000'}`;
  fig.appendChild(el);
  return el;
}

function hexRgb(hex) {
  return [1, 3, 5].map(i => parseInt(hex.slice(i, i + 2), 16));
}

function rampColor(stops, v) {
  if (v <= stops[0][0]) return stops[0][1];
  for (let i = 1; i < stops.length; i++) {
    if (v <= stops[i][0]) {
      const t = (v - stops[i - 1][0]) / (stops[i][0] - stops[i - 1][0]);
      const a = hexRgb(stops[i - 1][1]), b = hexRgb(stops[i][1]);
      return `rgb(${a.map((c, k) => Math.round(c + (b[k] - c) * t)).join(',')})`;
    }
  }
  return stops[stops.length - 1][1];
}

const minusLabel = v => String(v).replace('-', '\u2212');
const axisLine = (width, tick) => ({
  border: { display: true, color: '#000', width },
  grid: { drawOnChartArea: false, drawTicks: true, tickLength: tick, tickWidth: 2, tickColor: '#000' }
});
const explicitTicks = list => axis => { axis.ticks = list.map(value => ({ value })); };

// ─── Panel A/B ──────────────────────────────────────────────────────────────
const C = {
  bcell: '#F067A8', eryth: '#EE6A90', nonInf: '#5B9FDC', mp4: '#2DAFE4', mp5: '#17BBEA', mp2: '#12B8A0',
  mp3: '#13BEC2', mp1: '#1AB08B', chol: '#E769A6', lsec: '#C96FB2', hep1: '#5E99DB', hep2: '#7F92CF',
  hep5: '#B97BBF', hep3: '#9C8AC7', hep4: '#A785C7', green: '#2DB84E', t8gold: '#C2A02C', t8green: '#33B35A',
  t8olive: '#8FAA3C', t2: '#BFA02E', t3: '#9DAA36', t7: '#30B84E', t6: '#38B64C', t5: '#88AE38', t9: '#4DB649',
  t4: '#6DB442', c8t2: '#DA9A20', c8t3: '#CB9A22', c8t1: '#E58C1E', nk1: '#F47C70', nk2: '#F3805A'
};

const tCellLayers = [
  [umapEdgeTGold, C.t2, .6], [umapEdgeTGreen, C.t7, .6], [umapEdgeTLeaf, C.t4, .6], [umapEdgeC8, C.c8t2, .55], [umapEdgeNk, C.nk1, .55],
  [umapT2, C.t2, 1], [umapT8Gold, C.t8gold, 1], [umapT8Olive, C.t8olive, 1], [umapT8Green, C.t8green, 1],
  [umapT3, C.t3, 1], [umapT7, C.t7, 1], [umapT5, C.t5, 1], [umapT6, C.t6, 1], [umapT9, C.t9, 1], [umapT4, C.t4, 1],
  [umapC8T2, C.c8t2, 1], [umapC8T3, C.c8t3, 1], [umapC8T1, C.c8t1, 1], [umapNk1, C.nk1, 1], [umapNk2, C.nk2, 1],
  [umapGrainOlive, C.t3, .45], [umapGrainGold, C.t2, .45], [umapGrainGreen, C.t7, .45],
  [umapC8Strays, C.c8t1, .4], [umapSpeckBlue, C.hep1, .35], [umapSpike, '#3FA98F', .4], [umapTrailBlue, C.hep1, .4]
];
const mpLayers = [
  [umapEdgeCyan, C.mp4, .55], [umapEdgeBlue, C.nonInf, .55], [umapEdgeMp3, C.mp3, .55], [umapEdgeMp1, C.mp1, .55],
  [umapNonInf, C.nonInf, 1], [umapMp4, C.mp4, 1], [umapMp5, C.mp5, 1], [umapMp3, C.mp3, 1], [umapMp1, C.mp1, 1],
  [umapMp2, C.mp2, 1], [umapLsec2, C.lsec, .8], [umapLsec1, C.lsec, 1], [umapChol, C.chol, 1], [umapCholCap, C.mp2, 1],
  [umapGrainCyan, C.mp5, .5], [umapGrainBlue, C.nonInf, .5], [umapGrainMp3, C.mp3, .5],
  [umapSpeckPink, C.chol, .4], [umapSpeckTeal, C.mp3, .4]
];
const hepLayers = [
  [umapEdgeHep1, C.hep1, .55], [umapEdgeHep2, C.hep2, .55], [umapEdgeHep3, C.hep3, .55], [umapEdgeHep4, C.hep4, .55], [umapEdgeHep5, C.hep5, .55],
  [umapHep5, C.hep5, 1], [umapHep1, C.hep1, 1], [umapHep2, C.hep2, 1], [umapHep3, C.hep3, 1], [umapHep4, C.hep4, 1],
  [umapHepStem, C.hep3, .55], [umapTrailPurple, C.hep5, .45]
];

const fullLayers = [[umapBcellEdge, C.bcell, .55], [umapBcell, C.bcell, 1], [umapEryth, C.eryth, .55], ...mpLayers, ...hepLayers, [umapGreenSpot, C.green, .4], ...tCellLayers];
const liverLayers = [
  [umapBcell, C.bcell, 1],
  [umapNonInf, C.nonInf, .9], [umapMp4, C.mp4, .6], [umapMp5, C.mp5, .6], [umapMp3.slice(0, 14), C.mp3, 1], [umapMp1.slice(0, 11), C.mp1, 1],
  [liverMp4, C.mp4, 1], [liverMp5, C.mp5, 1], [liverMp3, C.mp3, 1.2], [liverMp1, C.mp1, 1.2],
  [umapLsec1, C.lsec, 1.1], [umapChol, C.chol, 1.1], [umapLsec2, C.lsec, 1.1], [liverPink, C.chol, .6],
  [umapEdgeHep1, C.hep1, .8], [umapEdgeHep3, C.hep5, .8], [umapHep1, C.hep1, 1], [umapHep2, C.hep2, 1], [umapHep5, C.hep5, 1], [umapHep3, C.hep5, 1], [umapHep4, C.hep2, 1],
  [umapHepStem, C.hep5, .8], [liverTBlue, C.hep1, .5], [liverTOlive, C.t8olive, .5], [liverTGreen, C.t7, .6], [liverT4, C.t5, 1],
  [liverC8T2, C.c8t2, 1], [liverC8T3, C.c8t3, 1.1], [liverC8T1, C.c8t1, 1.1], [liverNk1, C.nk1, 1.1], [liverNk2, C.nk2, 1.2]
];
const pbmcLayers = [
  [umapBcell.slice(10, 18), C.bcell, 1], [umapBcell.slice(0, 3), C.bcell, .6], [umapBcell.slice(24, 27), C.bcell, .4],
  [umapMp4, C.mp4, .6], [umapNonInf, C.nonInf, .55], [umapMp5, C.mp5, .7], [umapMp3, C.mp3, .65], [umapMp1, C.mp1, .8], [umapMp2, C.mp2, .7],
  [pbmcPink, C.chol, .7], [pbmcPurple, C.hep5, .5], [pbmcBlue, C.hep1, .5], [pbmcGreen, C.green, .5],
  ...tCellLayers
];

const clusterLabelPlugin = {
  id: 'clusterLabels',
  afterDatasetsDraw(chart) {
    const ctx = chart.ctx, sx = chart.scales.x, sy = chart.scales.y;
    ctx.save();
    ctx.font = '27px "Liberation Sans", Arial, sans-serif';
    ctx.fillStyle = '#111';
    ctx.textAlign = 'center';
    ctx.textBaseline = 'middle';
    clusterNames.forEach((name, i) => {
      ctx.fillText(name, sx.getPixelForValue(clusterX[i]), sy.getPixelForValue(clusterY[i]));
    });
    ctx.restore();
  }
};

const layerDatasets = (layers, radius) => layers.map(([pts, color, size]) => ({
  data: pts.map(([x, y]) => ({ x, y })),
  backgroundColor: color,
  borderWidth: 0,
  pointRadius: radius * size,
  clip: false
}));

// panel A
new Chart(place(0, 11, 1154, 889), {
  type: 'scatter',
  data: { datasets: layerDatasets(fullLayers, 7.5) },
  plugins: [clusterLabelPlugin],
  options: {
    layout: { padding: { top: 30, right: 10 } },
    scales: {
      x: {
        min: -15.1, max: 13.15,
        afterBuildTicks: explicitTicks(umapTicksX),
        afterFit: s => { s.height = 105; },
        ...axisLine(3, 7),
        ticks: { font: { size: 30 }, padding: 3, autoSkip: false, maxRotation: 0, callback: minusLabel, color: '#222' }
      },
      y: {
        min: -9.14, max: 16.28,
        afterBuildTicks: explicitTicks(umapTicksY),
        afterFit: s => { s.width = 100; },
        ...axisLine(3, 7),
        ticks: { font: { size: 30 }, padding: 3, autoSkip: false, callback: minusLabel, color: '#222' },
        title: { display: true, text: 'UMAP_2', font: { size: 34 }, color: '#222', padding: 0 }
      }
    }
  }
});
text('UMAP_1', 612, 876, 36, 'color:#222;');

// panel B, both maps share the A coordinates
function miniUmap(layers, top, height, yMin, yMax, xTitle) {
  new Chart(place(1152, top - 10, 401, height + 10 + (xTitle ? 53 : 30)), {
    type: 'scatter',
    data: { datasets: layerDatasets(layers, 3.7) },
    options: {
      layout: { padding: { top: 10, left: 20, right: 20 } },
      scales: {
        x: {
          min: -15.2, max: 13.3,
          afterBuildTicks: explicitTicks(umapTicksX),
          afterFit: s => { s.height = xTitle ? 53 : 30; },
          ...axisLine(3, 3),
          ticks: { font: { size: 15.5 }, padding: 1, autoSkip: false, maxRotation: 0, callback: minusLabel, color: '#222' },
          title: { display: !!xTitle, text: xTitle, font: { size: 17 }, color: '#222' }
        },
        y: { display: false, min: yMin, max: yMax }
      }
    }
  });
}
miniUmap(liverLayers, 18, 357, -9.7, 16);
miniUmap(pbmcLayers, 432, 362, -9, 15.8, 'UMAP_1');
text('Liver', 1346, 10, 24);
text('PBMCs', 1346, 427, 25);

// ─── Panel C ────────────────────────────────────────────────────────────────
const dotRadius = pct => 1.2 + .09 * pct;
const dotSeries = [[pctMp1, avgMp1], [pctMp2, avgMp2], [pctMp3, avgMp3], [pctMp4, avgMp4], [pctMp5, avgMp5], [pctNonInf, avgNonInf]];

new Chart(place(0, 883, 945, 697), {
  type: 'bubble',
  data: {
    datasets: dotSeries.map(([pct, avg], row) => ({
      data: pct.map((p, i) => ({ x: i, y: row, r: dotRadius(p), keep: p > 0 })).filter(d => d.keep),
      backgroundColor: pct.map((p, i) => rampColor(exprStops, avg[i])).filter((c, i) => pct[i] > 0),
      borderWidth: 0
    }))
  },
  options: {
    layout: { padding: { top: 20, right: 12 } },
    scales: {
      x: {
        min: -.6, max: 42.66,
        afterBuildTicks: explicitTicks(dotGenes.map((_, i) => i)),
        afterFit: s => { s.height = 70; },
        ...axisLine(3.5, 5),
        ticks: { font: { size: 13.5 }, padding: 1, autoSkip: false, minRotation: 45, maxRotation: 45, callback: v => dotGenes[v], color: '#222' }
      },
      y: {
        min: -.6, max: 5.61,
        afterBuildTicks: explicitTicks(dotRows.map((_, i) => i)),
        afterFit: s => { s.width = 118; },
        ...axisLine(3.5, 5),
        ticks: { font: { size: 22 }, padding: 4, autoSkip: false, callback: v => dotRows[v], color: '#222' }
      }
    }
  }
});

text('Percent Expressed', 998, 1126, 13.8);
legendPct.forEach((p, i) => {
  const r = dotRadius(p), y = [1148, 1163, 1178.6][i];
  rect(954 - r, y - r, 2 * r, 2 * r, '#000').style.borderRadius = '50%';
  text(String(p), 975, y + 1, 14);
});
text('Average Expression', 1001, 1206, 13.8);
const exprBar = rect(945, 1220, 16, 73);
exprBar.style.background = 'linear-gradient(to top,' + exprStops.map(([v, c]) => `${c} ${((v + 1.8) / 4.1 * 100).toFixed(1)}%`).join(',') + ')';
legendExprTicks.forEach(v => {
  const y = 1260 - v * 17.8;
  rect(945, y - .5, 3, 1, '#fff');
  rect(958, y - .5, 3, 1, '#fff');
  text(minusLabel(v), v < 0 ? 972 : 975, y, 14);
});

// ─── Panel D ────────────────────────────────────────────────────────────────
const spikeProfile = (h, bar) => h >= .7
  ? [[0,.48],[.02,.01],[.67,.01],[.7,bar],[.73,.01],[h,.01]]
  : [[0,.48],[.02,.48]];
const violinFill = i => i < 6 ? '#000' : i < 12 ? '#fff' : '#2a7a50';

function violinChart(title, violins, top, bottom, yMin, yMax, ticks, bar, labelled) {
  const below = labelled ? 90 : 10;
  new Chart(place(1105, top - 10, 498, bottom - top + 10 + below), {
    type: 'scatter',
    data: {
      datasets: violins.map((v, i) => {
        const prof = typeof v === 'number' ? spikeProfile(v, bar) : v;
        const right = prof.map(([y, w]) => ({ x: i + w, y }));
        const left = [...prof].reverse().map(([y, w]) => ({ x: i - w, y }));
        return {
          data: [...right, ...left, right[0]],
          showLine: true,
          fill: 'shape',
          tension: typeof v === 'number' ? 0 : .2,
          backgroundColor: violinFill(i),
          borderColor: '#333',
          borderWidth: 3,
          pointRadius: 0,
          clip: false
        };
      })
    },
    options: {
      layout: { padding: { top: 10, right: 10 } },
      scales: {
        x: {
          min: -.61, max: 15.6,
          afterBuildTicks: explicitTicks(violinGroups.map((_, i) => i)),
          afterFit: s => { s.height = below; },
          ...axisLine(3, 4),
          ticks: { display: !!labelled, font: { size: 15.5 }, padding: 1, autoSkip: false, minRotation: 90, maxRotation: 90, callback: i => violinGroups[i], color: '#222' }
        },
        y: {
          min: yMin, max: yMax,
          afterBuildTicks: explicitTicks(ticks),
          afterFit: s => { s.width = 39; },
          ...axisLine(3, 4),
          ticks: { font: { size: 14 }, padding: 2, autoSkip: false, color: '#222' },
          title: { display: true, text: 'Expression Level', font: { size: 14 }, color: '#222', padding: 3 }
        }
      }
    }
  });
  text(title, 1358, top - 8, 15.5);
}
violinChart('CD14', cd14Violins, 881, 987, -.196, 3.96, [0,1,2,3], .05);
violinChart('CD16', cd16Violins, 1018, 1124, -.12, 3.04, [0,1,2,3], .1);
violinChart('CD11B', cd11bViolins, 1153.5, 1259.5, -.105, 2.67, [0,1,2], .1);
violinChart('LYZ', lyzViolins, 1290, 1397, -.21, 5.48, [0,1,2,3], .05);
violinChart('MARCO', marcoViolins, 1427, 1534, -.138, 2.32, [0,1,2], .035, true);

rect(1153, 1626.5, 147, 2.5);
rect(1318, 1626.5, 149, 2.5);
rect(1481, 1626.5, 98, 2.5);
text('Healthy PBMCs', 1221, 1639, 16);
text('sAH PBMCs', 1387, 1639, 16);
text('Healthy Liver', 1524, 1639, 16);

// ─── Panels E/F ─────────────────────────────────────────────────────────────
function heatmap(left, width, cols, terms, values, labelWidth) {
  new Chart(place(left, 1661, width + labelWidth, 16 + 346 + 77), {
    type: 'bar',
    data: {
      labels: cols,
      datasets: terms.map((_, r) => ({
        data: values[r].map(() => [r - .5, r + .5]),
        backgroundColor: values[r].map(v => v === null ? '#d9d9d9' : rampColor(heatStops, v)),
        borderColor: values[r].map(v => v === null ? '#d9d9d9' : rampColor(heatStops, v)),
        borderWidth: .4,
        borderSkipped: false,
        grouped: false,
        barPercentage: 1,
        categoryPercentage: 1
      }))
    },
    options: {
      layout: { padding: { top: 16 } },
      scales: {
        x: {
          afterFit: s => { s.height = 77; },
          border: { display: false },
          grid: { display: false, drawTicks: false },
          ticks: { font: { size: 15.5 }, padding: 2, autoSkip: false, minRotation: 90, maxRotation: 90, color: '#222' }
        },
        y: {
          position: 'right', reverse: true, min: -.5, max: 19.5,
          afterBuildTicks: explicitTicks(terms.map((_, i) => i)),
          afterFit: s => { s.width = labelWidth; },
          border: { display: false },
          grid: { display: false, drawTicks: false },
          ticks: { font: { size: 16.8 }, padding: 5, autoSkip: false, callback: i => terms[i], color: '#222' }
        }
      }
    }
  });
}
heatmap(91.6, 231, colsE, termsE, valuesE, 530);
heatmap(916.7, 230.3, colsF, termsF, valuesF, 466);

const treePaths = merges => merges.map(([a, ha, b, hb, h]) => [[ha, a], [h, a], [h, b], [hb, b]]);

function rowDendro(rightX, unit, merges) {
  new Chart(place(rightX - 1.12 * unit, 1677, 1.12 * unit, 346), {
    type: 'scatter',
    data: {
      datasets: treePaths(merges).map(p => ({
        data: p.map(([x, y]) => ({ x, y })),
        showLine: true, borderColor: '#000', borderWidth: 3.5, pointRadius: 0, tension: 0,
        borderCapStyle: 'square', borderJoinStyle: 'miter'
      }))
    },
    options: {
      scales: {
        x: { display: false, reverse: true, min: 0, max: 1.12 },
        y: { display: false, reverse: true, min: -.5, max: 19.5 }
      }
    }
  });
}
function colDendro(left, width, merges) {
  new Chart(place(left, 1631, width, 42), {
    type: 'scatter',
    data: {
      datasets: treePaths(merges).map(p => ({
        data: p.map(([y, x]) => ({ x, y })),
        showLine: true, borderColor: '#000', borderWidth: 3.5, pointRadius: 0, tension: 0,
        borderCapStyle: 'square', borderJoinStyle: 'miter'
      }))
    },
    options: {
      scales: {
        x: { display: false, min: -.5, max: 3.5 },
        y: { display: false, min: 0, max: 1.05 }
      }
    }
  });
}
rowDendro(88, 38, rowTreeE);
colDendro(91.6, 231, colTreeE);
rowDendro(912, 42.3, rowTreeF);
colDendro(916.7, 230.3, colTreeF);

// heatmap key
const heatBar = rect(711.5, 1613, 82, 23);
heatBar.style.background = 'linear-gradient(to right,' + heatStops.map(([v, c]) => `${c} ${(v * 5).toFixed(1)}%`).join(',') + ')';
heatBar.style.border = '2px solid #000';
heatBar.style.boxSizing = 'border-box';
text('-log10(P)', 749, 1605, 10);
heatLegendTicks.forEach(v => {
  text(String(v), 711.5 + v * 4.1, 1642, 8);
});

// ─── Panel letters ──────────────────────────────────────────────────────────
[['A', 64, 17.5], ['B', 1130, 18], ['C', 63.5, 874], ['D', 1079, 875], ['E', 63.5, 1614], ['F', 900, 1612]].forEach(([l, x, y]) => {
  text(l, x, y, 40, 'font-weight:700;');
});
</script>
</body>
</html>
